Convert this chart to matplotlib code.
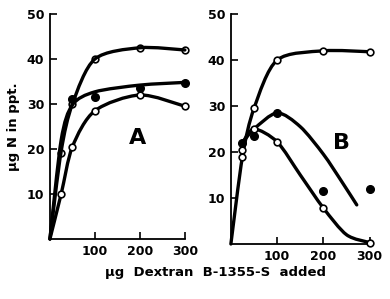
import numpy as np
import matplotlib
matplotlib.use('Agg')
import matplotlib.pyplot as plt
from matplotlib.path import Path
from matplotlib.patches import PathPatch

plt.rcParams['font.family'] = ['DejaVu Sans']
plt.rcParams['font.weight'] = 'bold'

# measured points, panel A
a_top_x = [25, 50, 100, 200, 300]
a_top_y = [19, 30, 40, 42.5, 42]
a_fill_x = [50, 100, 200, 300]
a_fill_y = [31, 31.5, 33.5, 34.7]
a_open_x = [25, 50, 100, 200, 300]
a_open_y = [10, 20.5, 28.5, 32, 29.5]

# hand drawn curves, panel A
a_top_cx = [0, 25, 50, 100, 200, 300]
a_top_cy = [0, 19.5, 30, 40, 42.5, 42]
a_fill_cx = [0, 25, 50, 100, 200, 300]
a_fill_cy = [0, 22, 29.8, 32.7, 34.2, 34.8]
a_open_cx = [0, 25, 50, 100, 200, 300]
a_open_cy = [0, 10, 20.5, 28.5, 32, 29.5]

# measured points, panel B
b_top_x = [25, 50, 100, 200, 300]
b_top_y = [19, 29.5, 40, 42, 41.8]
b_fill_x = [25, 50, 100, 200, 300]
b_fill_y = [22, 23.5, 28.5, 11.5, 12]
b_open_x = [25, 50, 100, 200, 300]
b_open_y = [20.5, 25, 22.2, 7.8, 0.3]

# hand drawn curves, panel B
b_top_cx = [0, 25, 50, 100, 200, 300]
b_top_cy = [0, 19, 29.5, 40, 42, 41.8]
b_fill_cx = [25, 50, 100, 150, 200, 240, 272]
b_fill_cy = [22, 25, 28.5, 25.5, 19.5, 13.5, 8.5]
b_open_cx = [25, 50, 100, 150, 200, 250, 300]
b_open_cy = [22, 25, 22.2, 15, 7.8, 2, 0.3]

xticks = [100, 200, 300]
yticks = [10, 20, 30, 40, 50]


def smooth_path(xs, ys, k=7.0):
    # catmull-rom nodes -> cubic bezier path, drawn by matplotlib
    p = np.column_stack([xs, ys]).astype(float)
    verts = [p[0]]
    codes = [Path.MOVETO]
    n = len(p)
    for i in range(n - 1):
        p0 = p[i - 1] if i > 0 else p[i]
        p3 = p[i + 2] if i + 2 < n else p[i + 1]
        c1 = p[i] + (p[i + 1] - p0) / k
        c2 = p[i + 1] - (p3 - p[i]) / k
        verts += [c1, c2, p[i + 1]]
        codes += [Path.CURVE4] * 3
    return Path(verts, codes)


def draw_curve(ax, xs, ys):
    ax.add_patch(PathPatch(smooth_path(xs, ys), fill=False, lw=2.4,
                           edgecolor='black', capstyle='round', clip_on=False))


def style(ax):
    ax.set_xlim(0, 300)
    ax.set_ylim(0, 50)
    ax.spines['top'].set_visible(False)
    ax.spines['right'].set_visible(False)
    ax.spines['left'].set_linewidth(1.3)
    ax.spines['bottom'].set_linewidth(1.3)
    ax.set_xticks(xticks)
    ax.set_yticks(yticks)
    ax.tick_params(direction='in', length=5, width=1.2, labelsize=9, pad=4)
    for lab in ax.get_xticklabels() + ax.get_yticklabels():
        lab.set_fontweight('bold')


fig = plt.figure(figsize=(3.9, 2.99), dpi=100)
axA = fig.add_axes([0.128, 0.2007, 0.346, 0.7525])
axB = fig.add_axes([0.592, 0.184, 0.356, 0.769])

mk_open = dict(marker='o', ms=4.8, mfc='white', mec='black', mew=1.2,
               ls='none', clip_on=False, zorder=5)
mk_ring = dict(marker='o', ms=4.8, mfc='none', mec='black', mew=1.2,
               ls='none', clip_on=False, zorder=5)
mk_fill = dict(marker='o', ms=5.5, mfc='black', mec='black',
               ls='none', clip_on=False, zorder=5)

# panel A
draw_curve(axA, a_top_cx, a_top_cy)
draw_curve(axA, a_fill_cx, a_fill_cy)
draw_curve(axA, a_open_cx, a_open_cy)
axA.plot(a_top_x, a_top_y, **mk_ring)
axA.plot(a_fill_x, a_fill_y, **mk_fill)
axA.plot(a_open_x, a_open_y, **mk_open)
style(axA)
axA.text(194, 22.5, 'A', fontsize=16, fontweight='bold', ha='center', va='center')
axA.set_ylabel('\u00b5g N in ppt.', fontsize=9.5, fontweight='bold', labelpad=5)

# panel B
draw_curve(axB, b_top_cx, b_top_cy)
draw_curve(axB, b_fill_cx, b_fill_cy)
draw_curve(axB, b_open_cx, b_open_cy)
axB.plot(b_top_x, b_top_y, **mk_open)
axB.plot(b_fill_x, b_fill_y, **mk_fill)
axB.plot(b_open_x, b_open_y, **mk_open)
style(axB)
axB.text(238, 22, 'B', fontsize=16, fontweight='bold', ha='center', va='center')

fig.text(0.552, 0.087, '\u00b5g  Dextran  B-1355-S  added', fontsize=9.5,
         fontweight='bold', ha='center', va='center')

fig.savefig('out.png', dpi=100)
